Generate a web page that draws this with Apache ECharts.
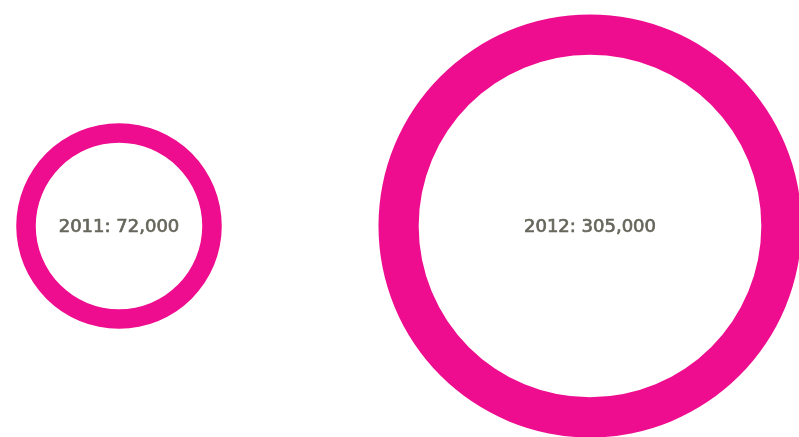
<!DOCTYPE html>
<html>
<head>
<meta charset="utf-8">
<script src="https://cdn.jsdelivr.net/npm/echarts@6/dist/echarts.min.js"></script>
<style>
html, body { margin: 0; padding: 0; background: #fff; }
#chart { width: 799px; height: 437px; }
</style>
</head>
<body>
<div id="chart"></div>
<script>
// ring data
var years = ['2011', '2012'];
var values = [72000, 305000];
var centersX = [119, 590];

var ringColor = '#ee0c8f';
var textColor = '#66665c';
// outer radius grows with sqrt(value) so ring area tracks the value
var scaleK = 0.383;
var innerRatio = 0.81;

var chart = echarts.init(document.getElementById('chart'));

var series = years.map(function(y, i) {
	var outer = scaleK * Math.sqrt(values[i]);
	return {
		type: 'pie',
		silent: true,
		center: [centersX[i], 226],
		radius: [outer * innerRatio, outer],
		startAngle: 90,
		label: {
			show: true,
			position: 'center',
			color: textColor,
			fontFamily: 'DejaVu Sans',
			fontWeight: 'normal',
			fontSize: 18,
			textBorderColor: textColor,
			textBorderWidth: 0.7,
			offset: [0, 1],
			formatter: function(p) {
				return p.name + ': ' + p.value.toLocaleString('en-US');
			}
		},
		labelLine: { show: false },
		itemStyle: { color: ringColor },
		data: [{ name: y, value: values[i] }]
	};
});

chart.setOption({
	animation: false,
	series: series
});
</script>
</body>
</html>
